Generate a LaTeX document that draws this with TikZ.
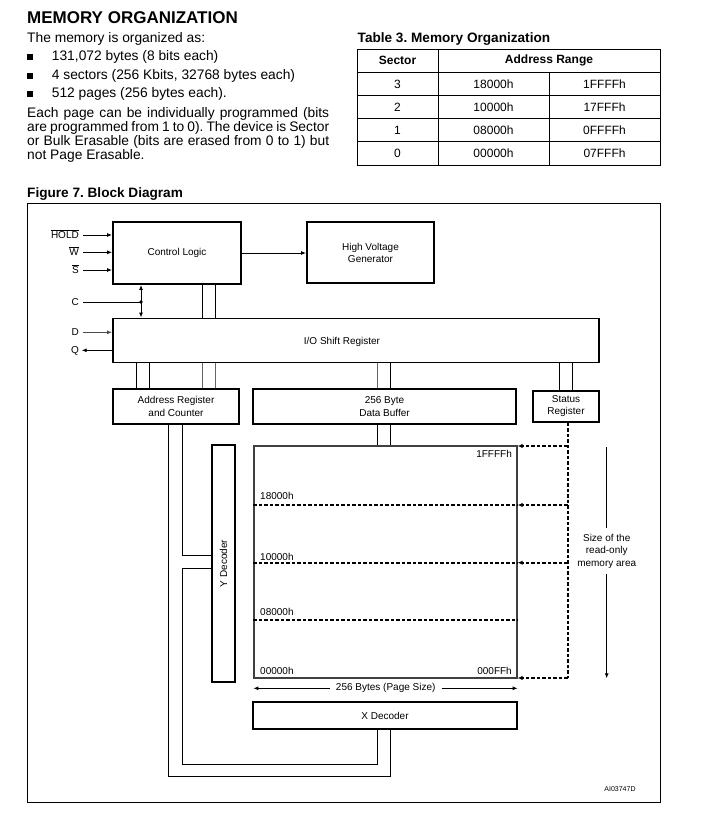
\documentclass[tikz,border=0pt]{standalone}
\usepackage{fontspec}
\setmainfont{Liberation Sans}
\usetikzlibrary{arrows.meta}
\newcommand\fsd{\fontsize{10}{12}\selectfont}
\newcommand\fbody{\fontsize{13.8}{15}\selectfont}
\frenchspacing
\begin{document}
\frenchspacing
\begin{tikzpicture}[x=1pt,y=-1pt,
  blk/.style={draw, line width=1.9pt, inner sep=0pt, font=\fsd, align=center},
  thinl/.style={line width=0.9pt},
  arr/.style={line width=0.9pt, -{Latex[length=5pt,width=4pt]}},
  darr/.style={line width=0.9pt, {Latex[length=5pt,width=4pt]}-{Latex[length=5pt,width=4pt]}},
  dsh/.style={line width=2pt, dash pattern=on 3.5pt off 2pt},
  dsharr/.style={dsh, -{Latex[length=5pt,width=4.5pt]}},
  lbl/.style={font=\fsd, inner sep=0pt},
  body/.style={font=\fbody, inner sep=0pt, anchor=base west},
  cell/.style={font=\fontsize{12}{14}\selectfont, inner sep=0pt}]
\useasboundingbox (0,0) rectangle (705,834);

% ---------- top text ----------
\node[body, font=\fontsize{17}{20}\selectfont\bfseries] (ttl) at (27,24) {MEMORY ORGANIZATION};
\node[body] (t0) at (27,42.7) {The memory is organized as:};
\foreach \yy/\txt [count=\i] in {61/{131,072 bytes (8 bits each)}, 79.3/{4 sectors (256 Kbits, 32768 bytes each)}, 97.7/{512 pages (256 bytes each).}}{
  \fill (27.3,\yy-6.5) rectangle (33.3,\yy-0.5);
  \node[body] (b\i) at (51.7,\yy) {\txt};
}
\node[body] (p1) at (27,117.3) {\makebox[302pt][s]{Each page can be individually programmed (bits}};
\node[body] (p2) at (27,131.3) {\makebox[302pt][s]{are programmed from 1 to 0). The device is Sector}};
\node[body] (p3) at (27,145.5) {\makebox[302pt][s]{or Bulk Erasable (bits are erased from 0 to 1) but}};
\node[body] (p4) at (27,159.5) {not Page Erasable.};

% ---------- table ----------
\node[anchor=base west, inner sep=0pt, font=\fontsize{13.6}{16}\selectfont\bfseries] (tabt) at (357.5,42.3) {Table 3. Memory Organization};
\draw[line width=0.8pt] (357,49) rectangle (660,165);
\foreach \yy in {72,95.5,118.5,141.5} \draw[line width=0.8pt] (357,\yy) -- (660,\yy);
\draw[line width=0.8pt] (438,49) -- (438,165);
\draw[line width=0.8pt] (549,72) -- (549,165);
\node[cell, font=\fontsize{12}{14}\selectfont\bfseries] (hs) at (397.5,60.5) {Sector};
\node[cell, font=\fontsize{12}{14}\selectfont\bfseries] (ha) at (549,60.5) {Address Range};
\foreach \yy/\s/\a/\b [count=\i] in {84/3/18000h/1FFFFh, 107/2/10000h/17FFFh, 130/1/08000h/0FFFFh, 153/0/00000h/07FFFh}{
  \node[cell] (s\i) at (397.5,\yy) {\s};
  \node[cell] (a\i) at (493.5,\yy) {\a};
  \node[cell] (e\i) at (604.5,\yy) {\b};
}

% ---------- figure ----------
\node[anchor=base west, inner sep=0pt, font=\fontsize{13.6}{16}\selectfont\bfseries] (figt) at (27,197.3) {Figure 7. Block Diagram};
\draw[line width=0.9pt] (27,203) rectangle (660,802);

\node[blk, minimum width=128, minimum height=62] (cl) at (177,253) {Control Logic};
\node[blk, minimum width=127, minimum height=61, font=\fontsize{10}{12}\selectfont] (hv) at (370.5,252.5) {High Voltage\\Generator};
\node[blk, minimum width=486, minimum height=44] (io) at (356,340.5) {};
\node[lbl] (iot) at (342,341.5) {I/O Shift Register};
\node[blk, minimum width=126, minimum height=35, font=\fontsize{10}{13}\selectfont] (ad) at (176,406.5) {Address Register\\and Counter};
\node[blk, minimum width=263, minimum height=35, font=\fontsize{10}{12.5}\selectfont] (db) at (384.5,406.5) {256 Byte\\Data Buffer};
\node[blk, minimum width=66, minimum height=31, font=\fontsize{10}{12}\selectfont] (st) at (566,406.5) {Status\\Register};
\node[draw=black!75, line width=1.3pt, minimum width=263, minimum height=232, inner sep=0pt] (mem) at (385.5,562) {};
\node[blk, minimum width=23, minimum height=237] (yd) at (223.5,563.5) {\rotatebox{90}{Y Decoder}};
\node[blk, minimum width=264, minimum height=27] (xd) at (385,715.5) {X Decoder};

% inputs
\foreach \nm/\yy/\txt in {hold/235/{$\overline{\mbox{HOLD}}$}, w/252.3/{$\overline{\mbox{W}}$}, s/270/{$\overline{\mbox{S}}$}}{
  \coordinate (i\nm) at (83,\yy);
  \node[lbl, anchor=base east] (l\nm) at (79,\yy+3.6) {\txt};
  \draw[arr] (i\nm) -- (i\nm -| cl.west);
}
\coordinate (ic) at (83,302);
\coordinate (cdot) at (141,302);
\node[lbl, anchor=base east] (lc) at (79,305.6) {C};
\draw[thinl] (ic) -- (cdot);
\fill (cdot) circle (1.8);
\draw[darr] (cdot |- cl.south) -- (cdot |- io.north);
\coordinate (id) at (83,332.3);
\node[lbl, anchor=base east] (ld) at (79,335.9) {D};
\draw[arr, draw=black!70] (id) -- (id -| io.west);
\coordinate (iq) at (81.7,350.3);
\node[lbl, anchor=base east] (lq) at (79,353.9) {Q};
\draw[arr] (iq -| io.west) -- (iq);

% control logic -> HV
\draw[arr] (cl.east |- 0,253) -- (hv.west |- 0,253);

% buses
\foreach \xx in {202,215} \draw[thinl] (\xx,0 |- cl.south) -- (\xx,0 |- io.north);
\foreach \xx in {136,149.3} \draw[thinl] (\xx,0 |- io.south) -- (\xx,0 |- ad.north);
\foreach \xx in {202,215} \draw[thinl, draw=black!60] (\xx,0 |- io.south) -- (\xx,0 |- ad.north);
\draw[thinl, draw=black!60] (377,0 |- io.south) -- (377,0 |- db.north);
\draw[thinl] (390,0 |- io.south) -- (390,0 |- db.north);
\foreach \xx in {559.3,572.3} \draw[thinl] (\xx,0 |- io.south) -- (\xx,0 |- st.north);
\foreach \xx in {377,390} \draw[thinl] (\xx,0 |- db.south) -- (\xx,0 |- mem.north);

% address register -> decoders
\draw[thinl] (182,0 |- ad.south) -- (182,555) -- (yd.west |- 0,555);
\draw[thinl] (yd.west |- 0,568.3) -- (182,568.3) -- (182,764) -- (377,764) -- (377,0 |- xd.south);
\draw[thinl] (168,0 |- ad.south) -- (168,776.5) -- (390,776.5) -- (390,0 |- xd.south);

% memory array
\foreach \yy in {505,562.7,620} \draw[dsh] (mem.west |- 0,\yy) -- (mem.east |- 0,\yy);
\node[lbl, anchor=base east] (m1) at (512,457) {1FFFFh};
\node[lbl, anchor=base west] (m2) at (260,499.6) {18000h};
\node[lbl, anchor=base west] (m3) at (260,560.3) {10000h};
\node[lbl, anchor=base west] (m4) at (260,615.3) {08000h};
\node[lbl, anchor=base west] (m5) at (260,674.3) {00000h};
\node[lbl, anchor=base east] (m6) at (512,674.3) {000FFh};

% status register dotted line and arrows
\coordinate (sbot) at (567.5,678);
\draw[dsh] (567.5,0 |- st.south) -- (sbot);
\foreach \yy in {446,505,562.7,678} \draw[dsharr] (567.5,\yy) -- (mem.east |- 0,\yy);

% size of read-only area
\node[font=\fontsize{10}{12.5}\selectfont, align=center, inner xsep=0pt, inner ysep=6pt] (sz) at (606.7,551) {Size of the\\read-only\\memory area};
\draw[thinl] (606.7,447.3) -- (sz.north);
\draw[arr] (sz.south) -- (606.7,678.3);

% page size
\node[lbl, inner xsep=6pt] (ps) at (385.7,688.3) {256 Bytes (Page Size)};
\draw[arr] (ps.west) -- (mem.west |- ps.west);
\draw[arr] (ps.east) -- (mem.east |- ps.east);

\node[inner sep=0pt, font=\fontsize{7}{8}\selectfont] (ref) at (620,789) {AI03747D};
\end{tikzpicture}
\end{document}
